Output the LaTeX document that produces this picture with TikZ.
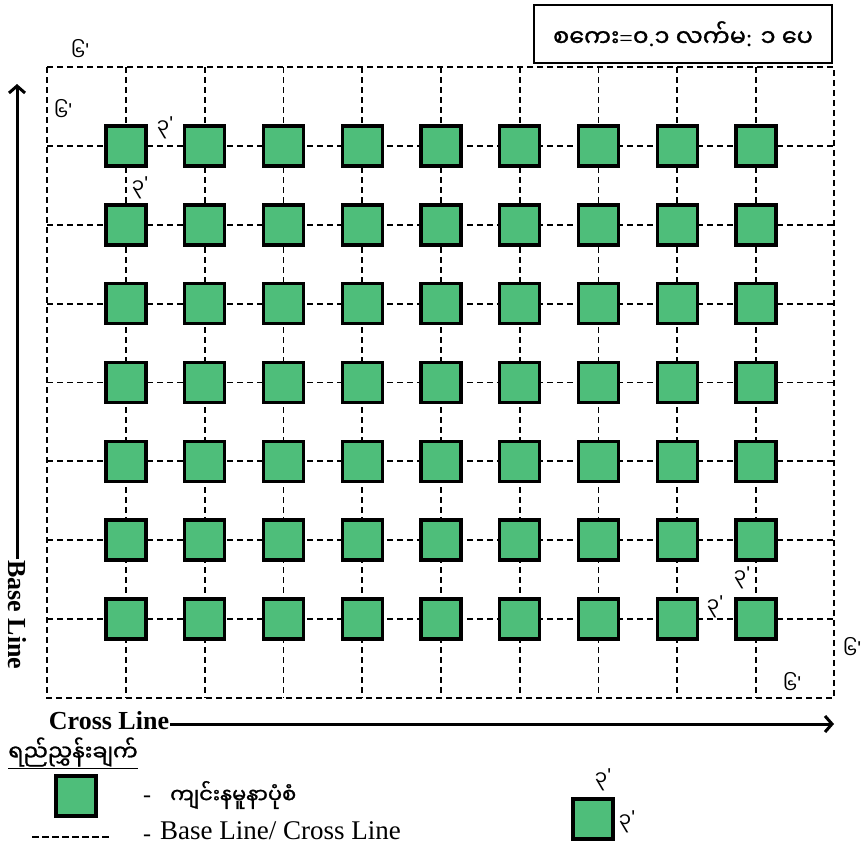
\documentclass[tikz,border=0pt]{standalone}
\usepackage{fontspec}
\setmainfont{Liberation Serif}
\newfontfamily\mm[Script=Myanmar]{Noto Sans Myanmar UI}
\newfontfamily\mmb[Script=Myanmar, FakeBold=1.2]{Noto Sans Myanmar UI}
\newfontfamily\tick{Liberation Sans}
\usetikzlibrary{arrows.meta}

\definecolor{pitgreen}{RGB}{78,190,122}
\newcommand{\ft}[1]{{\mm #1}\raisebox{3pt}{\tick\textquotesingle}}

\tikzset{
    pit/.style = {draw, line width = 3.4pt, fill = pitgreen, minimum size = 40pt, inner sep = 0pt},
    gridline/.style = {line width = 1.8pt, dash pattern = on 6pt off 4pt},
    dim/.style = {font = \fontsize{20}{22}\selectfont, inner sep = 0pt},
    axis/.style = {line width = 3pt, -{Straight Barb[length = 7pt, width = 16pt, line width = 3pt]}},
}

\begin{document}
\begin{tikzpicture}[x = 1pt, y = -1pt]
    \useasboundingbox (0,0) rectangle (868,846);

    % scale box
    \node[draw, line width = 1.8pt, minimum width = 298pt, minimum height = 58pt,
        font = \fontsize{24}{28}\selectfont] (scale) at (683,34)
        {{\mmb စကေး}={\mmb ၀}.{\mmb ၁ လက်မ}: {\mmb ၁ ပေ}};

    % base lines and cross lines
    \draw[gridline] (47,67) rectangle (834,698);
    \foreach \c in {0,...,8}
        \draw[gridline] ({126 + 78.75*\c},67) -- ({126 + 78.75*\c},698);
    \foreach \r in {0,...,6}
        \draw[gridline] (47,{146 + 78.8*\r}) -- (834,{146 + 78.8*\r});

    % pits
    \foreach \r in {0,...,6}
        \foreach \c in {0,...,8}
            \node[pit] (p-\r-\c) at ({126 + 78.75*\c},{146 + 78.8*\r}) {};

    % spacings
    \node[dim] (m1) at (80,50) {\ft{၆}};
    \node[dim] (m2) at (63,110) {\ft{၆}};
    \node[dim] (s1) at (165,128) {\ft{၃}};
    \node[dim] (s2) at (140,188) {\ft{၃}};
    \node[dim] (s3) at (742,578) {\ft{၃}};
    \node[dim] (s4) at (715,607) {\ft{၃}};
    \node[dim] (m3) at (852,648) {\ft{၆}};
    \node[dim] (m4) at (792,683) {\ft{၆}};

    % axes
    \node[font = \fontsize{26}{28}\selectfont\bfseries, rotate = -90, inner sep = 1pt] (base) at (17,615) {Base Line};
    \coordinate (basetip) at (17,84);
    \draw[axis] (base.west) -- (basetip);

    \node[font = \fontsize{26}{28}\selectfont\bfseries, inner sep = 1pt] (cross) at (109,721) {Cross Line};
    \coordinate (crosstip) at (834,724);
    \draw[axis] (cross.east |- crosstip) -- (crosstip);

    % legend
    \node[font = \mmb\fontsize{22}{26}\selectfont, inner sep = 0pt] (key) at (73,753) {\underline{ရည်ညွှန်းချက်}};
    \node[pit] (keypit) at (76,796) {};
    \node[font = \fontsize{24}{28}\selectfont] (dash1) at (147,799) {-};
    \node[font = \mmb\fontsize{21}{24}\selectfont, anchor = west, inner sep = 0pt] (pittext) at (170,795) {ကျင်းနမူနာပုံစံ};
    \draw[gridline, dash pattern = on 7pt off 3pt] (32,837) -- (110,837);
    \node[font = \fontsize{24}{28}\selectfont] (dash2) at (147,838) {-};
    \node[font = \fontsize{27}{30}\selectfont, anchor = west, inner sep = 0pt] (linetext) at (160,831) {Base Line/ Cross Line};

    \node[pit] (onepit) at (593,819) {};
    \node[dim] (t1) at (603,780) {\ft{၃}};
    \node[dim] (t2) at (627,822) {\ft{၃}};
\end{tikzpicture}
\end{document}
